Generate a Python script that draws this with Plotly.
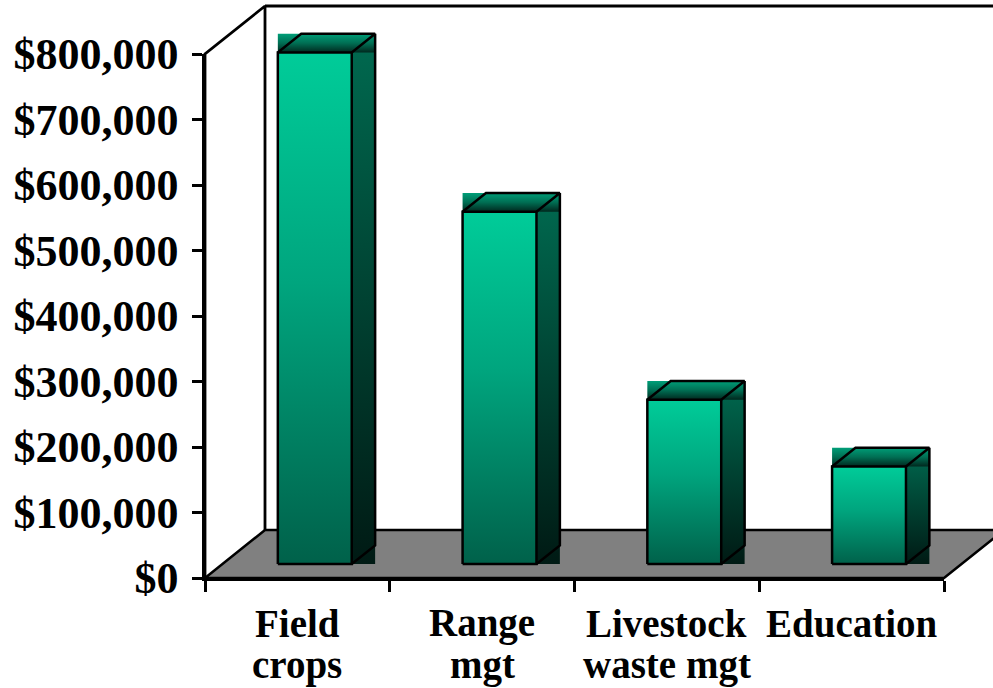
import plotly.graph_objects as go

# Funding by program area
categories = ["Field crops", "Range mgt", "Livestock waste mgt", "Education"]
label_lines = [["Field", "crops"], ["Range", "mgt"], ["Livestock", "waste mgt"], ["Education"]]
values = [781000, 538000, 251000, 149000]
y_ticks = [0, 100000, 200000, 300000, 400000, 500000, 600000, 700000, 800000]
y_tick_text = [f"${v:,}" for v in y_ticks]
y_max = 800000

# Canvas and plot geometry (pixels)
W, H = 993, 688
PX_LEFT, PX_RIGHT = 205, 944      # front edge of the floor
PX_ZERO, PX_TOP = 578, 54         # $0 and $800,000 on the front wall edge
DEPTH_PX = (60, 48)               # floor depth offset (right, up)
LABEL_ROWS_PX = (623, 665)        # centre of each category label line

n = len(categories)
cat_px = (PX_RIGHT - PX_LEFT) / n
val_px = (PX_ZERO - PX_TOP) / y_max

# Depth vector in data units of the full-canvas axes
DX = DEPTH_PX[0] / cat_px
DY = DEPTH_PX[1] / val_px

# Full-canvas axes share units with the category/value axes
x_lo = -0.5 - PX_LEFT / cat_px
x_hi = -0.5 + (W - PX_LEFT) / cat_px
y_lo = -(H - PX_ZERO) / val_px
y_hi = PX_ZERO / val_px

BAR_HALF = 0.2
F_FRONT, F_BACK = 0.29, 0.68

FRONT_SCALE = [[0, "#00614A"], [0.55, "#00A57E"], [1, "#00CC99"]]
SIDE_SCALE = [[0, "#001A14"], [1, "#006A50"]]
TOP_SCALE = [[0, "#00281E"], [0.5, "#006E53"], [1, "#009E78"]]

fig = go.Figure()


def poly(xs, ys, scale=None, color=None, line=None):
    kw = dict(x=xs + [xs[0]], y=ys + [ys[0]], mode="lines", hoverinfo="skip",
              showlegend=False, xaxis="x", yaxis="y")
    if scale is not None or color is not None:
        kw["fill"] = "toself"
        if scale is not None:
            kw["fillgradient"] = dict(type="vertical", colorscale=scale)
        else:
            kw["fillcolor"] = color
    kw["line"] = line if line else dict(width=0, color="rgba(0,0,0,0)")
    fig.add_trace(go.Scatter(**kw))


black = dict(color="black", width=2.5)

# Floor
x0, x1 = -0.5, n - 0.5
poly([x0, x1, x1 + DX, x0 + DX], [0, 0, DY, DY], color="#808080", line=black)

# Side and back walls (outline only)
fig.add_trace(go.Scatter(
    x=[x0, x0, x0 + DX, x0 + DX, None, x0 + DX, x1 + DX],
    y=[0, y_max, y_max + DY, DY, None, y_max + DY, y_max + DY],
    mode="lines", line=dict(color="black", width=2.8), hoverinfo="skip",
    showlegend=False, xaxis="x", yaxis="y"))

# Bars
for i, v in enumerate(values):
    fl = i - BAR_HALF + F_FRONT * DX
    fr = i + BAR_HALF + F_FRONT * DX
    fb = F_FRONT * DY
    ft = fb + v
    ddx = (F_BACK - F_FRONT) * DX
    ddy = (F_BACK - F_FRONT) * DY
    bt = ft + ddy
    # side face box
    poly([fr, fr + ddx, fr + ddx, fr], [fb, fb, bt, bt], scale=SIDE_SCALE)
    # top face box
    poly([fl, fr + ddx, fr + ddx, fl], [ft, ft, bt, bt], scale=TOP_SCALE)
    # front face
    poly([fl, fr, fr, fl], [fb, fb, ft, ft], scale=FRONT_SCALE)
    # edges
    fig.add_trace(go.Scatter(
        x=[fl, fr, fr, fl, fl, None,
           fl, fl + ddx, fr + ddx, fr, None,
           fr, fr + ddx, fr + ddx],
        y=[fb, fb, ft, ft, fb, None,
           ft, bt, bt, ft, None,
           fb, fb + ddy, bt],
        mode="lines", line=black, hoverinfo="skip", showlegend=False,
        xaxis="x", yaxis="y"))

# Category / value axes on the front edges
fig.add_trace(go.Scatter(x=categories, y=values, mode="markers",
                         marker=dict(opacity=0), hoverinfo="skip",
                         showlegend=False, xaxis="x2", yaxis="y2"))

label_font = dict(family="Liberation Serif", color="black", weight="bold")

# Category labels, one line of text per row (tight line spacing)
for i, lines in enumerate(label_lines):
    for row, txt in enumerate(lines):
        fig.add_annotation(x=i, xref="x2", y=1 - LABEL_ROWS_PX[row] / H,
                           yref="paper", text=txt, showarrow=False,
                           xanchor="center", yanchor="middle",
                           font=dict(size=39, **label_font))

fig.update_layout(
    width=W, height=H,
    margin=dict(l=0, r=0, t=0, b=0, autoexpand=False),
    paper_bgcolor="white", plot_bgcolor="rgba(0,0,0,0)",
    hovermode=False,
    xaxis=dict(domain=[0, 1], range=[x_lo, x_hi], visible=False,
               fixedrange=True, automargin=False),
    yaxis=dict(domain=[0, 1], range=[y_lo, y_hi], visible=False,
               fixedrange=True, automargin=False),
    xaxis2=dict(domain=[PX_LEFT / W, PX_RIGHT / W], anchor="y2", type="category",
                range=[-0.5, n - 0.5], tickson="boundaries", ticks="outside",
                ticklen=11, tickwidth=2.5, tickcolor="black", showline=True,
                linewidth=2.5, linecolor="black", showgrid=False, zeroline=False,
                automargin=False, fixedrange=True, showticklabels=False),
    yaxis2=dict(domain=[(H - PX_ZERO) / H, (H - PX_TOP) / H], anchor="x2",
                range=[0, y_max], tickmode="array", tickvals=y_ticks,
                ticktext=y_tick_text, ticks="outside", ticklen=10, tickwidth=2.5,
                tickcolor="black", showline=True, linewidth=2.5,
                linecolor="black", showgrid=False, zeroline=False,
                automargin=False, fixedrange=True, ticklabelstandoff=5,
                tickfont=dict(size=44, **label_font)),
)

fig.write_html("out.html")
